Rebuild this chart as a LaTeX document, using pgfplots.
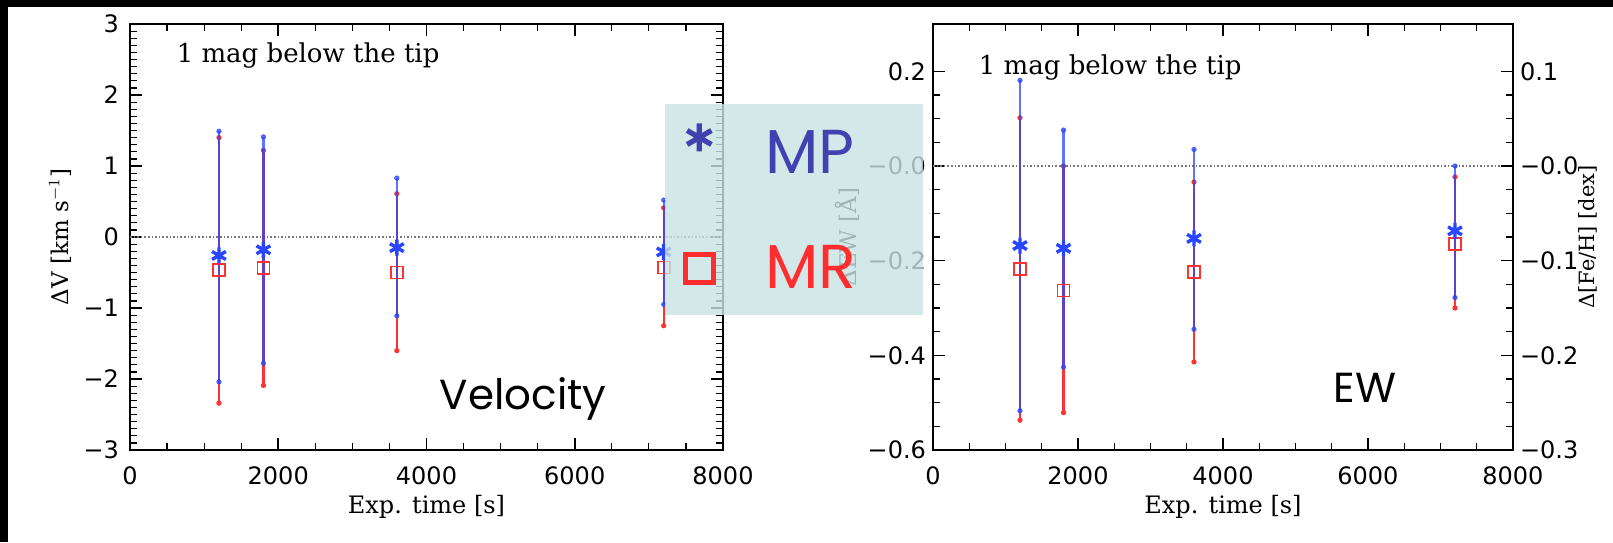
\documentclass[border=0pt]{standalone}
\usepackage{fontspec}
\setmainfont{DejaVu Serif}
\newfontfamily\tickfont{DejaVu Sans}
\newfontfamily\comicfont{Poppins}
\usepackage{pgfplots}
\pgfplotsset{compat=1.18}
\usepackage{pgfplotstable}

\definecolor{mpblue}{RGB}{40,70,255}
\definecolor{mrred}{RGB}{255,50,50}
\definecolor{legblue}{RGB}{65,65,175}
\definecolor{legred}{RGB}{255,45,45}
\definecolor{boxcyan}{RGB}{200,228,228}
\definecolor{dotgray}{RGB}{120,120,120}

% Velocity panel
\pgfplotstableread{
x y ep em
1200 -0.26 1.75 1.78
1800 -0.18 1.59 1.60
3600 -0.15 0.98 0.96
7200 -0.21 0.73 0.74
}\velMP
\pgfplotstableread{
x y ep em
1200 -0.47 1.87 1.87
1800 -0.44 1.66 1.65
3600 -0.50 1.11 1.10
7200 -0.43 0.84 0.82
}\velMR
% EW panel
\pgfplotstableread{
x y ep em
1200 -0.168 0.349 0.349
1800 -0.174 0.250 0.251
3600 -0.153 0.188 0.192
7200 -0.137 0.137 0.141
}\ewMP
\pgfplotstableread{
x y ep em
1200 -0.218 0.320 0.319
1800 -0.263 0.263 0.258
3600 -0.224 0.190 0.190
7200 -0.164 0.141 0.136
}\ewMR

\pgfplotsset{
  idl/.style={
    scale only axis, xmin=0, xmax=8000,
    xtick={0,2000,4000,6000,8000}, xticklabels={0,2000,4000,6000,8000},
    minor x tick num=3,
    tick align=inside, major tick length=6pt, minor tick length=3.5pt,
    axis line style={line width=1pt},
    major tick style={line width=0.8pt, black},
    minor tick style={line width=0.6pt, black},
    ticklabel style={font=\tickfont\fontsize{12}{14}\selectfont},
    xticklabel style={yshift=-5pt},
    xlabel style={font=\fontsize{12}{14}\selectfont, at={(axis description cs:0.5,-0.134)}, anchor=center},
    ylabel style={font=\fontsize{11.5}{14}\selectfont, anchor=center},
  },
  mrstyle/.style={only marks, mark=square, mark size=3pt, color=mrred,
    mark options={line width=0.9pt, solid},
    error bars/.cd, y dir=both, y explicit,
    error bar style={line width=1.1pt, color=mrred},
    error mark=*, error mark options={mark size=1.1pt, color=mrred, fill=mrred},
    /pgfplots/.cd},
  mpstyle/.style={only marks, mark=asterisk, mark size=4pt, color=mpblue,
    mark options={line width=1.7pt, solid},
    error bars/.cd, y dir=both, y explicit,
    error bar style={line width=1.1pt, color=mpblue, opacity=0.75},
    error mark=*, error mark options={mark size=1.1pt, color=mpblue, fill=mpblue},
    /pgfplots/.cd},
}

\begin{document}
\begin{tikzpicture}
\useasboundingbox (0pt,0pt) rectangle (806.5pt,271pt);
\fill[white] (0pt,0pt) rectangle (806.5pt,271pt);
\fill[black] (0pt,267.5pt) rectangle (806.5pt,271pt);
\fill[black] (0pt,0pt) rectangle (4pt,271pt);

% ---------- EW panel ----------
\begin{axis}[idl, at={(466.5pt,46pt)}, anchor=south west,
  width=290pt, height=213pt,
  ymin=-0.6, ymax=0.3,
  ytick={-0.6,-0.4,-0.2,0,0.2}, yticklabels={−0.6,−0.4,−0.2,−0.0,0.2},
  minor y tick num=3, ytick pos=left,
  xlabel={Exp. time [s]},
  ylabel={ΔEW [Å]},
  ylabel style={at={(axis description cs:-0.147,0.5)}},
]
\addplot[forget plot, dotgray, densely dotted, line width=0.8pt] coordinates {(0,0) (8000,0)};
\addplot[forget plot, mrstyle] table[x=x, y=y, y error plus=ep, y error minus=em]{\ewMR};
\addplot[forget plot, mpstyle] table[x=x, y=y, y error plus=ep, y error minus=em]{\ewMP};
\node[anchor=west, font=\fontsize{13}{15}\selectfont] at (rel axis cs:0.067,0.899) {1 mag below the tip};
\node[font=\comicfont\fontsize{21}{21}\selectfont] at (rel axis cs:0.745,0.146) {EW};
\end{axis}

\begin{axis}[scale only axis, at={(466.5pt,46pt)}, anchor=south west,
  width=290pt, height=213pt,
  xmin=0, xmax=8000, ymin=-0.3, ymax=0.15,
  axis x line=none, axis y line*=right,
  tick align=inside, major tick length=6pt, minor tick length=3.5pt,
  axis line style={line width=1pt},
  major tick style={line width=0.8pt, black},
  minor tick style={line width=0.6pt, black},
  ytick={-0.3,-0.2,-0.1,0,0.1}, yticklabels={−0.3,−0.2,−0.1,−0.0,0.1},
  minor y tick num=3,
  ticklabel style={font=\tickfont\fontsize{12}{14}\selectfont},
  ylabel={Δ[Fe/H] [dex]},
  ylabel style={font=\fontsize{10.5}{12}\selectfont, at={(axis description cs:1.13,0.5)}, anchor=center},
]
\end{axis}

% ---------- Velocity panel ----------
\begin{axis}[idl, at={(65pt,46pt)}, anchor=south west,
  width=296.5pt, height=213pt,
  ymin=-3, ymax=3,
  ytick={-3,-2,-1,0,1,2,3}, yticklabels={−3,−2,−1,0,1,2,3},
  minor y tick num=9,
  yticklabel style={xshift=-2pt},
  xlabel={Exp. time [s]},
  ylabel={ΔV [km s$^{-1}$]},
  ylabel style={at={(axis description cs:-0.118,0.5)}},
  legend style={at={(axis description cs:0.902,0.812)}, anchor=north west,
    fill=boxcyan, fill opacity=0.8, text opacity=1, draw=none,
    font=\comicfont\fontsize{31}{31}\selectfont,
    inner xsep=10pt, inner ysep=9.5pt, row sep=30.5pt, column sep=24pt},
  legend cell align=left,
]
\addplot[forget plot, dotgray, densely dotted, line width=0.8pt] coordinates {(0,0) (8000,0)};
\addplot[forget plot, mrstyle] table[x=x, y=y, y error plus=ep, y error minus=em]{\velMR};
\addplot[forget plot, mpstyle] table[x=x, y=y, y error plus=ep, y error minus=em]{\velMP};
\node[anchor=west, font=\fontsize{13}{15}\selectfont] at (rel axis cs:0.067,0.925) {1 mag below the tip};
\node[font=\comicfont\fontsize{21}{21}\selectfont] at (rel axis cs:0.663,0.12) {Velocity};
\addlegendimage{only marks, mark=asterisk, mark size=7pt, color=legblue, mark options={line width=2.6pt, yshift=8pt}}
\addlegendentry{\textcolor{legblue}{MP}\rule{21.5pt}{0pt}}
\addlegendimage{only marks, mark=square, mark size=7pt, color=legred, mark options={line width=2.5pt}}
\addlegendentry{\textcolor{legred}{MR}\rule{21.5pt}{0pt}}
\end{axis}
\end{tikzpicture}
\end{document}
